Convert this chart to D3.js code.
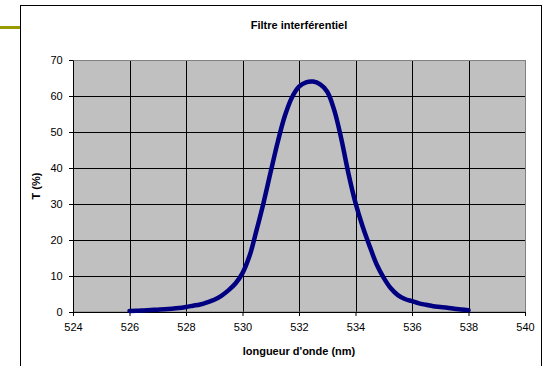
<!DOCTYPE html>
<html>
<head>
<meta charset="utf-8">
<script src="https://cdn.jsdelivr.net/npm/d3@7"></script>
<style>
  body { margin: 0; background: #fff; }
  svg { display: block; font-family: "Liberation Sans", Arial, sans-serif; }
</style>
</head>
<body>
<svg width="545" height="366"></svg>
<script>
// wavelength (nm) and transmission (%)
var lambda = [526, 526.25, 526.5, 526.75, 527, 527.25, 527.5, 527.75, 528, 528.25, 528.5, 528.75,
  529, 529.25, 529.5, 529.75, 530, 530.25, 530.5, 530.75, 531, 531.25, 531.5, 531.75,
  532, 532.25, 532.5, 532.75, 533, 533.25, 533.5, 533.75, 534, 534.25, 534.5, 534.75,
  535, 535.25, 535.5, 535.75, 536, 536.25, 536.5, 536.75, 537, 537.25, 537.5, 537.75, 538];
var transmission = [0.3, 0.35, 0.45, 0.55, 0.65, 0.75, 0.9, 1.1, 1.4, 1.75, 2.1, 2.7,
  3.4, 4.5, 6.0, 7.9, 10.8, 15.6, 22.8, 30.5, 39, 47.3, 54.5, 59.6,
  62.6, 63.8, 64.0, 63.2, 61.2, 56, 48, 38.5, 30.3, 23.8, 18.3, 13.2,
  9.5, 6.6, 4.7, 3.6, 3.0, 2.4, 2.0, 1.6, 1.4, 1.2, 0.9, 0.7, 0.5];
var xTicks = [524, 526, 528, 530, 532, 534, 536, 538, 540];
var yTicks = [0, 10, 20, 30, 40, 50, 60, 70];

var svg = d3.select("svg"),
    margin = { top: 60, right: 20, bottom: 54, left: 73 },
    width = 525 - margin.left,
    height = 312 - margin.top;

// slide decoration + chart area border
svg.append("rect").attr("x", 0).attr("y", 26).attr("width", 20).attr("height", 3).attr("fill", "#999900");
svg.append("rect").attr("x", 20.5).attr("y", 5.5).attr("width", 521).attr("height", 380)
    .attr("fill", "#fff").attr("stroke", "#000").attr("stroke-width", 1);

var g = svg.append("g").attr("transform", "translate(" + margin.left + "," + margin.top + ")");

var x = d3.scaleLinear().domain([524, 540]).range([0, width]);
var y = d3.scaleLinear().domain([0, 70]).range([height, 0]);

g.append("rect").attr("width", width).attr("height", height).attr("fill", "#c0c0c0");

// grid
g.append("g").selectAll("line").data(yTicks.slice(1)).enter().append("line")
    .attr("x1", 0).attr("x2", width)
    .attr("y1", function (d) { return Math.round(y(d)) + 0.5; })
    .attr("y2", function (d) { return Math.round(y(d)) + 0.5; })
    .attr("stroke", "#000");
g.append("g").selectAll("line").data(xTicks.slice(1, -1)).enter().append("line")
    .attr("y1", 0).attr("y2", height)
    .attr("x1", function (d) { return Math.round(x(d)) + 0.5; })
    .attr("x2", function (d) { return Math.round(x(d)) + 0.5; })
    .attr("stroke", "#000");
g.append("rect").attr("x", 0.5).attr("y", 0.5).attr("width", width).attr("height", height - 0.5)
    .attr("fill", "none").attr("stroke", "#808080");

// axes
var xAxis = g.append("g")
    .attr("transform", "translate(0," + height + ")")
    .call(d3.axisBottom(x).tickValues(xTicks).tickSize(4).tickSizeOuter(0));
var yAxis = g.append("g")
    .call(d3.axisLeft(y).tickValues(yTicks).tickSize(4).tickSizeOuter(0));
[xAxis, yAxis].forEach(function (a) {
    a.selectAll("path, line").attr("stroke", "#000");
    a.selectAll("text").attr("font-size", 11).attr("fill", "#000")
        .attr("font-family", "'Liberation Sans', Arial, sans-serif");
});
xAxis.selectAll("text").attr("dy", "1.1em");
yAxis.selectAll("text").attr("dx", "-0.3em");

// curve
var pts = lambda.map(function (l, i) { return [l, transmission[i]]; });
g.append("path")
    .datum(pts)
    .attr("fill", "none")
    .attr("stroke", "#000080")
    .attr("stroke-width", 4.5)
    .attr("stroke-linecap", "round")
    .attr("stroke-linejoin", "round")
    .attr("d", d3.line().curve(d3.curveCatmullRom.alpha(0.5))
        .x(function (d) { return x(d[0]); })
        .y(function (d) { return y(d[1]); }));

// titles
svg.append("text").attr("x", 299).attr("y", 29).attr("text-anchor", "middle")
    .attr("font-size", 11).attr("font-weight", "bold").text("Filtre interférentiel");
svg.append("text").attr("x", 299).attr("y", 355).attr("text-anchor", "middle")
    .attr("font-size", 11).attr("font-weight", "bold").text("longueur d'onde (nm)");
svg.append("text").attr("transform", "translate(40,186) rotate(-90)").attr("text-anchor", "middle")
    .attr("font-size", 11).attr("font-weight", "bold").text("T (%)");
</script>
</body>
</html>
